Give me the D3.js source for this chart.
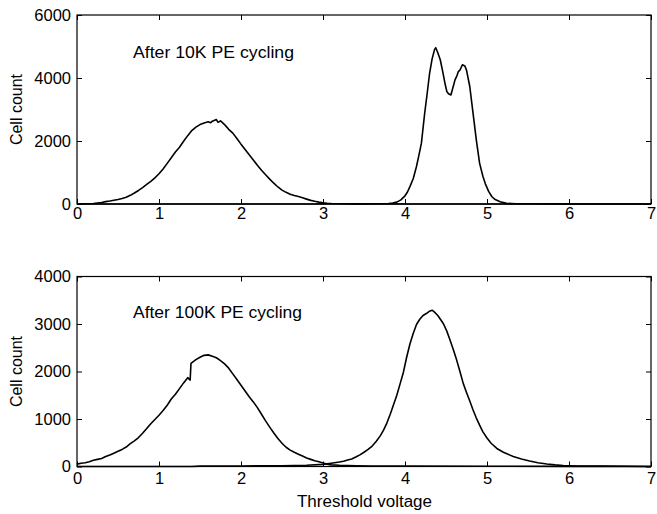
<!DOCTYPE html>
<meta charset="utf-8">
<script src="https://cdn.jsdelivr.net/npm/d3@7"></script>
<style>
body { margin: 0; background: #fff; }
svg text { font-family: "Liberation Sans", Arial, sans-serif; fill: #000; }
</style>
<body>
<script>

var width = 657
var height = 514

// threshold voltage (V) vs cell count
var top_erased = [[0,10],[0.1,8],[0.2,15],[0.3,50],[0.35,75],[0.4,95],[0.45,120],[0.5,145],[0.55,175],[0.6,215],[0.65,275],[0.7,350],[0.75,430],[0.8,520],[0.85,620],[0.9,720],[0.95,830],[1.0,960],[1.05,1110],[1.1,1290],[1.15,1470],[1.2,1650],[1.25,1800],[1.3,1990],[1.35,2170],[1.4,2330],[1.45,2440],[1.5,2520],[1.55,2570],[1.6,2610],[1.63,2580],[1.65,2630],[1.7,2680],[1.72,2590],[1.75,2640],[1.8,2520],[1.85,2370],[1.9,2250],[1.95,2080],[2.0,1900],[2.05,1730],[2.1,1560],[2.15,1400],[2.2,1230],[2.25,1070],[2.3,930],[2.35,790],[2.4,660],[2.45,540],[2.5,440],[2.55,370],[2.6,310],[2.65,270],[2.7,235],[2.75,195],[2.8,155],[2.85,115],[2.9,85],[2.95,60],[3.0,40],[3.05,25],[3.1,15],[3.2,8],[3.4,5],[3.6,3],[4.0,0],[7,0]]
var top_programmed = [[0,0],[2.9,0],[3.0,5],[3.2,8],[3.4,5],[3.6,8],[3.8,15],[3.85,30],[3.9,60],[3.95,130],[4.0,260],[4.03,380],[4.06,550],[4.1,800],[4.14,1190],[4.17,1550],[4.2,1930],[4.24,2880],[4.27,3500],[4.3,4150],[4.33,4600],[4.36,4900],[4.375,4960],[4.4,4800],[4.43,4580],[4.46,4200],[4.49,3800],[4.51,3570],[4.53,3500],[4.56,3460],[4.58,3650],[4.61,3940],[4.63,4050],[4.65,4200],[4.67,4250],[4.7,4420],[4.73,4380],[4.75,4250],[4.79,3730],[4.83,2880],[4.87,2030],[4.91,1290],[4.95,880],[4.98,640],[5.02,400],[5.06,230],[5.1,140],[5.16,70],[5.24,20],[5.35,8],[5.6,8],[5.8,5],[6.0,2],[7,0]]

var bottom_erased = [[0,50],[0.05,70],[0.1,80],[0.15,100],[0.2,130],[0.25,150],[0.3,170],[0.35,210],[0.4,240],[0.45,280],[0.5,320],[0.55,360],[0.6,410],[0.65,480],[0.7,540],[0.75,610],[0.8,700],[0.85,800],[0.9,900],[0.95,990],[1.0,1080],[1.05,1180],[1.1,1290],[1.15,1420],[1.2,1520],[1.25,1640],[1.3,1760],[1.35,1870],[1.38,1820],[1.39,2170],[1.45,2250],[1.5,2300],[1.55,2340],[1.6,2350],[1.65,2320],[1.7,2290],[1.75,2230],[1.8,2160],[1.85,2070],[1.9,1950],[1.95,1830],[2.0,1710],[2.05,1590],[2.1,1470],[2.15,1360],[2.2,1240],[2.25,1100],[2.3,960],[2.35,830],[2.4,705],[2.45,590],[2.5,490],[2.55,405],[2.6,345],[2.65,300],[2.7,260],[2.75,220],[2.8,180],[2.85,150],[2.9,120],[2.95,100],[3.0,75],[3.05,50],[3.1,35],[3.2,25],[3.4,15],[3.6,10],[4.0,8],[5.0,5],[6.0,3],[7,0]]
var bottom_programmed = [[0,0],[1.4,0],[1.5,8],[2.0,12],[2.5,15],[2.8,25],[3.0,45],[3.1,70],[3.2,95],[3.25,110],[3.3,135],[3.35,160],[3.4,200],[3.45,245],[3.5,300],[3.55,360],[3.6,430],[3.65,530],[3.7,650],[3.74,770],[3.78,920],[3.82,1100],[3.86,1300],[3.9,1500],[3.94,1740],[3.98,1980],[4.02,2300],[4.06,2580],[4.1,2800],[4.14,2990],[4.18,3100],[4.22,3180],[4.26,3220],[4.3,3270],[4.33,3290],[4.36,3250],[4.4,3180],[4.44,3080],[4.47,3000],[4.51,2850],[4.55,2660],[4.59,2460],[4.63,2240],[4.67,2000],[4.71,1750],[4.75,1560],[4.79,1380],[4.83,1190],[4.87,1020],[4.91,870],[4.95,730],[5.0,600],[5.05,490],[5.12,380],[5.2,300],[5.32,210],[5.42,160],[5.52,115],[5.62,80],[5.73,53],[5.83,35],[5.93,22],[6.1,12],[6.4,8],[6.7,5],[7,0]]

var x_ticks = [0, 1, 2, 3, 4, 5, 6, 7]
var top_y_ticks = [0, 2000, 4000, 6000]
var bottom_y_ticks = [0, 1000, 2000, 3000, 4000]

var svg = d3.select("body").append("svg")
            .attr("width", width)
            .attr("height", height)

var x = d3.scaleLinear().domain([0, 7]).range([77, 651])

function panel(top, bottom, ymax, yticks, series, label, labelY, labelW, xpad) {
  var y = d3.scaleLinear().domain([0, ymax]).range([bottom, top])
  var g = svg.append("g")

  g.append("g")
   .attr("transform", "translate(0," + bottom + ")")
   .call(d3.axisBottom(x).tickValues(x_ticks).tickSizeInner(-5).tickSizeOuter(0).tickPadding(xpad).tickFormat(d3.format("d")))
  g.append("g")
   .attr("transform", "translate(0," + top + ")")
   .call(d3.axisTop(x).tickValues(x_ticks).tickSizeInner(-5).tickSizeOuter(0).tickFormat(""))
  g.append("g")
   .attr("transform", "translate(77,0)")
   .call(d3.axisLeft(y).tickValues(yticks).tickSizeInner(-5).tickSizeOuter(0).tickPadding(6).tickFormat(d3.format("d")))
  g.append("g")
   .attr("transform", "translate(651,0)")
   .call(d3.axisRight(y).tickValues(yticks).tickSizeInner(-5).tickSizeOuter(0).tickFormat(""))

  g.selectAll(".domain").remove()
  g.selectAll(".tick line").attr("stroke", "#000")
  g.selectAll(".tick text").style("font-size", "16.5px").attr("fill", "#000")

  g.append("rect")
   .attr("x", 77).attr("y", top)
   .attr("width", 651 - 77).attr("height", bottom - top)
   .attr("fill", "none").attr("stroke", "#000").attr("stroke-width", 1.2)

  var line = d3.line().x(function(d) { return x(d[0]) }).y(function(d) { return y(d[1]) })
  series.forEach(function(s) {
    g.append("path").attr("d", line(s))
     .attr("fill", "none").attr("stroke", "#000").attr("stroke-width", 1.6)
     .attr("stroke-linejoin", "round")
  })

  g.append("text")
   .attr("x", 133).attr("y", labelY)
   .attr("textLength", labelW).attr("lengthAdjust", "spacingAndGlyphs")
   .style("font-size", "16px")
   .text(label)

  g.append("text")
   .attr("transform", "translate(22," + ((top + bottom) / 2) + ") rotate(-90)")
   .style("text-anchor", "middle")
   .style("font-size", "16px")
   .text("Cell count")
}

panel(15, 204, 6000, top_y_ticks, [top_erased, top_programmed], "After 10K PE cycling", 58, 161, 3)
panel(276.5, 466.5, 4000, bottom_y_ticks, [bottom_erased, bottom_programmed], "After 100K PE cycling", 318, 169, 6)

svg.append("text")
   .attr("x", 297).attr("y", 507)
   .attr("textLength", 135).attr("lengthAdjust", "spacingAndGlyphs")
   .style("font-size", "16px")
   .text("Threshold voltage")

</script>
</body>
